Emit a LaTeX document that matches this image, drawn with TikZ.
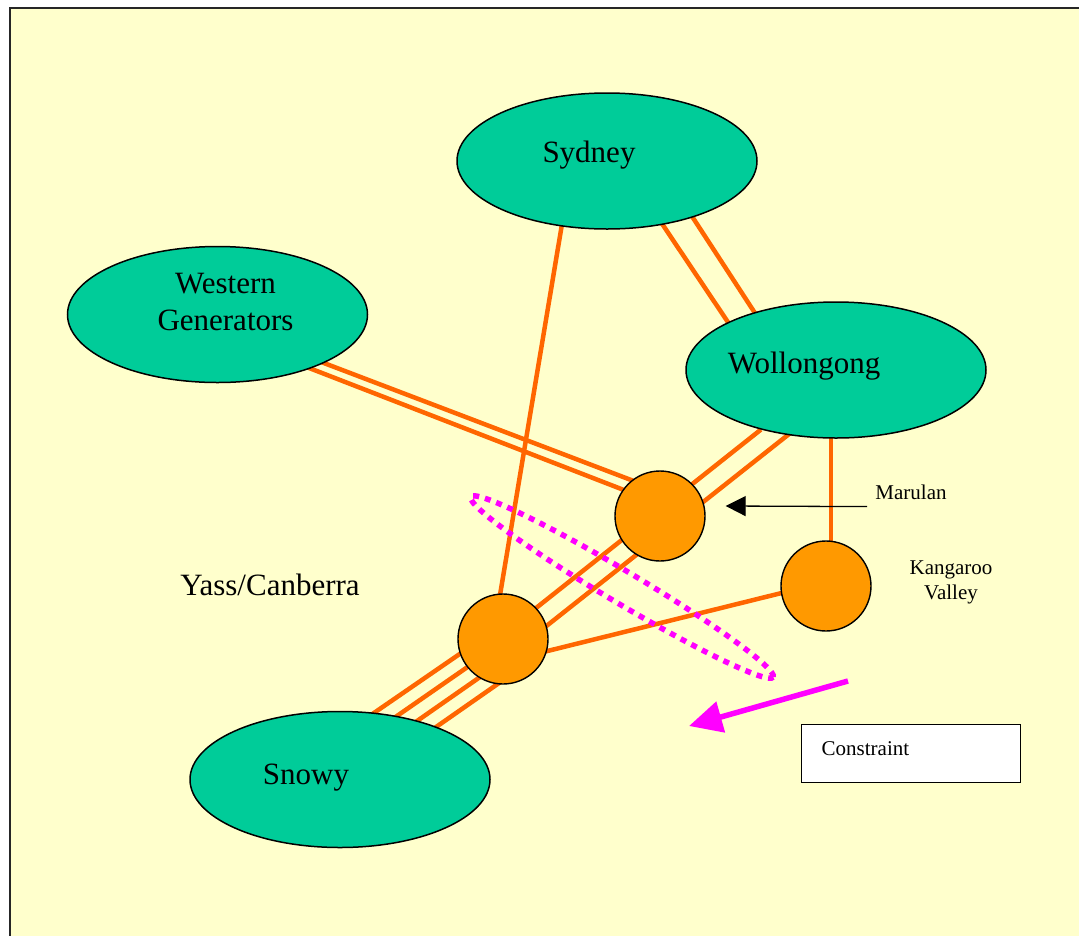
\documentclass[tikz,border=0pt]{standalone}
\usepackage{fontspec}
\setmainfont{Liberation Serif}
\usetikzlibrary{shapes.geometric}
\usetikzlibrary{positioning}
\usetikzlibrary{calc}
\usetikzlibrary{arrows.meta}
\pgfdeclarelayer{ultrabackground}
\pgfdeclarelayer{background}
\pgfdeclarelayer{foreground}
\pgfsetlayers{ultrabackground,background,main,foreground}
\definecolor{paper}{HTML}{FFFFCC}
\definecolor{citygreen}{HTML}{00CC99}
\definecolor{busorange}{HTML}{FF9900}
\definecolor{feederorange}{HTML}{FF6600}
\definecolor{cutmagenta}{HTML}{FF00FF}
\newcommand{\citysize}{\fontsize{31}{37}\selectfont}
\newcommand{\notesize}{\fontsize{21}{25}\selectfont}

\begin{document}
\begin{tikzpicture}
			[
				x = 1pt, y = -1pt,
				city/.style = {ellipse, minimum width = 300pt, minimum height = 136pt, inner sep = 0pt, fill = citygreen, draw = black, line width = 1.5pt},
				citytext/.style = {font = \citysize, align = center},
				bus/.style = {circle, minimum size = 90pt, inner sep = 0pt, fill = busorange, draw = black, line width = 1.4pt},
				feeder/.style = {draw = feederorange, line width = 4.5pt},
				note/.style = {font = \notesize, inner sep = 0pt, align = center},
			]
			\useasboundingbox (0,0) rectangle (1079,935);
			\begin{pgfonlayer}{ultrabackground}
				\fill [white] (0,0) rectangle (1079,935);
				\draw [fill = paper, draw = black!85, line width = 2pt] (10,8) rectangle (1095,950);
			\end{pgfonlayer}
			\node (Sydney) [city, label = {[citytext, shift = {(-18,-6)}]center:Sydney}] at (607,161) {};
			\node (Western) [city, label = {[citytext, shift = {(8,-13)}]center:Western\\Generators}] at (217.5,314.5) {};
			\node (Wollongong) [city, label = {[citytext, shift = {(-32,-4)}]center:Wollongong}] at (836,370) {};
			\node (Snowy) [city, label = {[citytext, shift = {(-34,-2)}]center:Snowy}] at (340,779.5) {};
			\node (Marulan) [bus] at (660,516) {};
			\node (Kangaroo) [bus] at (826,586) {};
			\node (Yass) [bus] at (503,639) {};
			\node (yasslabel) [citytext] at (270,585) {Yass/Canberra};
			\node (marulanlabel) [note] at (911,492) {Marulan};
			\node (kangaroolabel) [note] at (951,582) {Kangaroo\\Valley};
			\node (constraint) [draw, fill = white, line width = 1.4pt, minimum width = 219pt, minimum height = 58pt, inner xsep = 20pt, text width = 179pt, text depth = 10pt, align = left, font = \notesize, anchor = north west] at (801,724) {Constraint};
			\begin{pgfonlayer}{background}
				\draw [feeder] ($(Sydney)+(-41,39)$) -- ($(Yass)+(-7,-20)$);
				\draw [feeder] ($(Sydney)+(13,0)$) -- ($(Wollongong)+(-76,0)$);
				\draw [feeder] ($(Sydney)+(49,0)$) -- ($(Wollongong)+(-44,0)$);
				\draw [feeder] ($(Western)+(0,8)$) -- ($(Marulan)+(0,-25)$);
				\draw [feeder] ($(Western)+(0,18)$) -- ($(Marulan)+(0,-12)$);
				\draw [feeder] (Wollongong) -- ($(Yass)+(-6,0)$);
				\draw [feeder] ($(Wollongong)+(34,0)$) -- ($(Yass)+(27,0)$);
				\draw [feeder] ($(Wollongong)+(-5,0)$) -- ($(Kangaroo)+(5,0)$);
				\draw [feeder] ($(Kangaroo)+(0,-4)$) -- ($(Yass)+(0,23)$);
				\draw [feeder] ($(Yass)+(-7,-10)$) -- ($(Snowy)+(-9,-37)$);
				\draw [feeder] ($(Yass)+(2,2)$) -- ($(Snowy)+(0,-24)$);
				\draw [feeder] ($(Yass)+(10,15)$) -- ($(Snowy)+(9,-11)$);
				\draw [feeder] ($(Yass)+(19,28)$) -- ($(Snowy)+(18,2)$);
			\end{pgfonlayer}
			\begin{pgfonlayer}{foreground}
				\node (cutset) [ellipse, draw = cutmagenta, line width = 5.5pt, dash pattern = on 6pt off 6pt, minimum width = 352pt, minimum height = 32pt, rotate = -30.8] at (622,587) {};
				\coordinate (cuttail) at (848,681);
				\coordinate (cuthead) at (689,726);
				\draw [cutmagenta, line width = 5.5pt, -{Triangle[length = 33pt, width = 31pt]}] (cuttail) -- (cuthead);
				\draw [black, line width = 1.3pt, -{Triangle[length = 20pt, width = 20pt]}] ($(marulanlabel.south west)+(-8,7)$) -- ($(Marulan.east)+(20,-10)$);
			\end{pgfonlayer}
		\end{tikzpicture}
\end{document}
